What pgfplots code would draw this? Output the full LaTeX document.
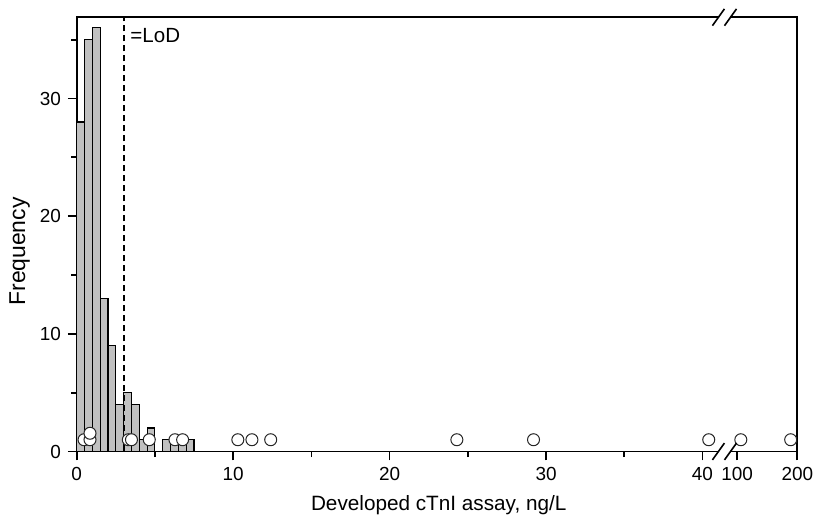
\documentclass[border=0pt]{standalone}
\usepackage{fontspec}
\setmainfont{Liberation Sans}
\usepackage{pgfplots}
\pgfplotsset{compat=1.18}
\definecolor{barfill}{RGB}{192,192,192}
\begin{document}
\begin{tikzpicture}
\begin{axis}[
  at={(0,0)}, anchor=south west,
  scale only axis, width=360.3bp, height=217.1bp,
  xmin=0, xmax=200, ymin=0, ymax=36.9,
  x coord trafo/.code={\pgfmathparse{#1>70 ? 42.22+(#1-100)*0.0384 : #1}},
  xtick={0,10,20,30,40,100,200},
  xticklabels={0,10,20,30,40,100,200},
  minor xtick={5,15,25,35},
  ytick={0,10,20,30},
  minor ytick={5,15,25,35},
  xtick pos=bottom, ytick pos=left,
  tick align=outside,
  major tick length=4.4bp, minor tick length=2.8bp,
  axis line style={line width=0.85bp},
  tick style={black, line width=0.85bp},
  minor tick style={black, line width=0.85bp},
  tick label style={font=\fontsize{9.5}{10}\selectfont},
  /pgf/number format/assume math mode=true,
  clip=false,
]
\addplot[ybar interval, fill=barfill, draw=black, line width=0.55bp]
  coordinates {(0,28) (0.5,35) (1,36) (1.5,13) (2,9) (2.5,4) (3,5) (3.5,4)
               (4,1) (4.5,2) (5,0) (5.5,1) (6,1) (6.5,1) (7,1) (7.5,0)};
\addplot[black, line width=0.9bp, dash pattern=on 3.4bp off 1.6bp]
  coordinates {(3,0) (3,36.9)};
\addplot[only marks, mark=*, mark size=3bp,
  mark options={fill=white, draw=black!85, line width=0.5bp}]
  coordinates {(0.47,1) (0.85,1) (0.85,1.55) (3.3,1) (3.5,1) (4.64,1)
               (6.28,1) (6.77,1) (10.3,1) (11.2,1) (12.4,1) (24.3,1)
               (29.2,1) (40.4,1) (106,1) (189,1)};
\node[anchor=base west, inner sep=0pt, font=\fontsize{10.3}{12}\selectfont] at (axis cs:3.41,34.74) {=LoD};
\coordinate (b1) at (axis cs:41.02,0);
\coordinate (b2) at (axis cs:41.79,0);
\coordinate (t1) at (axis cs:41.02,36.9);
\coordinate (t2) at (axis cs:41.79,36.9);
\end{axis}
% axis breaks
\fill[white] ([yshift=-1.2bp]b1) rectangle ([yshift=1.2bp]b2);
\fill[white] ([yshift=-1.2bp]t1) rectangle ([yshift=1.2bp]t2);
\foreach \c in {b1,b2,t1,t2}{
  \draw[black, line width=0.8bp] ([xshift=-3bp,yshift=-4.2bp]\c) -- ([xshift=3bp,yshift=4.2bp]\c);
}
\node[anchor=base, font=\fontsize{10.4}{12}\selectfont] at (181bp,-29.6bp) {Developed cTnI assay, ng/L};
\node[anchor=base, rotate=90, font=\fontsize{11.5}{12}\selectfont] at (-25.85bp,100bp) {Frequency};
\pgfresetboundingbox
\path[use as bounding box] (-38.35bp,-32.75bp) rectangle (368.15bp,225.75bp);
\end{tikzpicture}
\end{document}
